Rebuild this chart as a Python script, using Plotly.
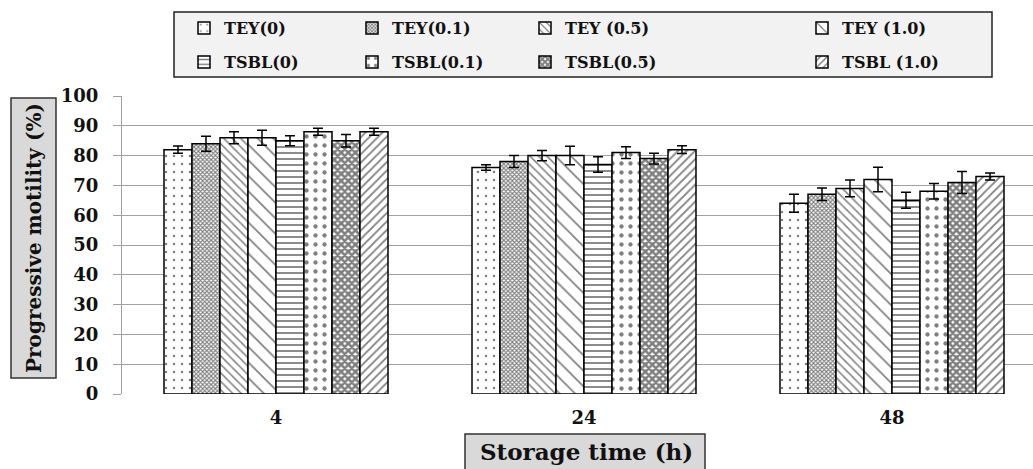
import plotly.graph_objects as go

# Storage time groups (hours)
hours = ["4", "24", "48"]

# Progressive motility (%) and SD for each extender
tey_0 = [82, 76, 64]
tey_0_sd = [1.2, 0.9, 3.0]
tey_01 = [84, 78, 67]
tey_01_sd = [2.5, 2.0, 2.1]
tey_05 = [86, 80, 69]
tey_05_sd = [2.0, 1.7, 2.8]
tey_10 = [86, 80, 72]
tey_10_sd = [2.5, 3.1, 4.1]
tsbl_0 = [85, 77, 65]
tsbl_0_sd = [1.7, 2.6, 2.7]
tsbl_01 = [88, 81, 68]
tsbl_01_sd = [1.2, 2.0, 2.6]
tsbl_05 = [85, 79, 71]
tsbl_05_sd = [2.1, 1.8, 3.7]
tsbl_10 = [88, 82, 73]
tsbl_10_sd = [1.2, 1.3, 1.2]

series_names = ["TEY(0)", "TEY(0.1)", "TEY (0.5)", "TEY (1.0)",
                "TSBL(0)", "TSBL(0.1)", "TSBL(0.5)", "TSBL (1.0)"]
series_values = [tey_0, tey_01, tey_05, tey_10, tsbl_0, tsbl_01, tsbl_05, tsbl_10]
series_sd = [tey_0_sd, tey_01_sd, tey_05_sd, tey_10_sd,
             tsbl_0_sd, tsbl_01_sd, tsbl_05_sd, tsbl_10_sd]

# Fill patterns (shape, size, solidity) for each bar series
patterns = [
    (".", 8, 0.08),
    ("x", 3, 0.6),
    ("\\", 6, 0.25),
    ("\\", 11, 0.15),
    ("-", 6, 0.3),
    (".", 9, 0.18),
    ("x", 5, 0.75),
    ("/", 6, 0.3),
]

W, H = 1033, 469
L, T, B = 122, 96, 394
plot_w = W - L
plot_h = B - T
cat_px = 308

FONT = "DejaVu Serif"


def px_x(p):
    return (p - L) / plot_w


def px_y(p):
    return (B - p) / plot_h


fig = go.Figure()

legend_text_x = [224, 392, 565, 842]
legend_row_y = [28, 62]

for i, (name, vals, sd, pat) in enumerate(zip(series_names, series_values, series_sd, patterns)):
    lg = "legend" if i == 0 else f"legend{i + 1}"
    fig.add_trace(go.Bar(
        x=hours, y=vals, name=name, legend=lg,
        marker=dict(color="white", line=dict(color="black", width=1.5),
                    pattern=dict(shape=pat[0], size=pat[1], solidity=pat[2],
                                 fgcolor="black", bgcolor="white", fillmode="overlay")),
        error_y=dict(type="data", array=sd, color="black", thickness=1.5, width=5),
    ))

legends = {}
for i in range(len(series_names)):
    key = "legend" if i == 0 else f"legend{i + 1}"
    col, row = i % 4, i // 4
    legends[key] = dict(
        xref="container", yref="container",
        x=(legend_text_x[col] - 40) / W, xanchor="left",
        y=1 - legend_row_y[row] / H, yanchor="middle",
        bgcolor="rgba(0,0,0,0)", borderwidth=0,
        font=dict(family=FONT, size=16, color="#111111", weight="bold"),
        itemwidth=30,
    )

fig.update_layout(
    width=W, height=H,
    margin=dict(l=L, r=0, t=T, b=H - B, pad=0, autoexpand=False),
    paper_bgcolor="white", plot_bgcolor="white",
    barmode="group", bargap=1 - 224 / cat_px, bargroupgap=0,
    showlegend=True,
    **legends,
    xaxis=dict(
        type="category", range=[-0.5, -0.5 + plot_w / cat_px],
        showgrid=False, showline=False, zeroline=False, ticks="",
        tickfont=dict(family=FONT, size=18, color="#111111", weight="bold"),
        ticklabelstandoff=11, automargin=False,
    ),
    yaxis=dict(
        range=[0, 100], dtick=10,
        showgrid=True, gridcolor="#a0a0a0", gridwidth=1.3,
        showline=True, linecolor="#a0a0a0", linewidth=1.3,
        zeroline=False, ticks="outside", ticklen=8, tickcolor="#a0a0a0", tickwidth=1.3,
        tickfont=dict(family=FONT, size=18, color="#111111", weight="bold"),
        ticklabelstandoff=11, automargin=False,
    ),
    shapes=[
        # legend frame
        dict(type="rect", xref="paper", yref="paper",
             x0=px_x(174), x1=px_x(992), y0=px_y(77), y1=px_y(12),
             fillcolor="#f2f2f2", line=dict(color="#222222", width=1.5), layer="below"),
        # y-axis title frame
        dict(type="rect", xref="paper", yref="paper",
             x0=px_x(11), x1=px_x(56), y0=px_y(378), y1=px_y(98),
             fillcolor="#d9d9d9", line=dict(color="#333333", width=1.5), layer="below"),
        # x-axis title frame
        dict(type="rect", xref="paper", yref="paper",
             x0=px_x(465), x1=px_x(705), y0=px_y(471), y1=px_y(434),
             fillcolor="#d9d9d9", line=dict(color="#333333", width=1.5), layer="below"),
    ],
    annotations=[
        dict(text="Progressive motility (%)", textangle=-90,
             xref="paper", yref="paper", x=px_x(34), y=px_y(238),
             xanchor="center", yanchor="middle", showarrow=False,
             font=dict(family=FONT, size=20, color="#111111", weight="bold")),
        dict(text="Storage time (h)",
             xref="paper", yref="paper", x=px_x(586), y=px_y(451),
             xanchor="center", yanchor="middle", showarrow=False,
             font=dict(family=FONT, size=23, color="#111111", weight="bold")),
    ],
)

fig.write_html("out.html")
